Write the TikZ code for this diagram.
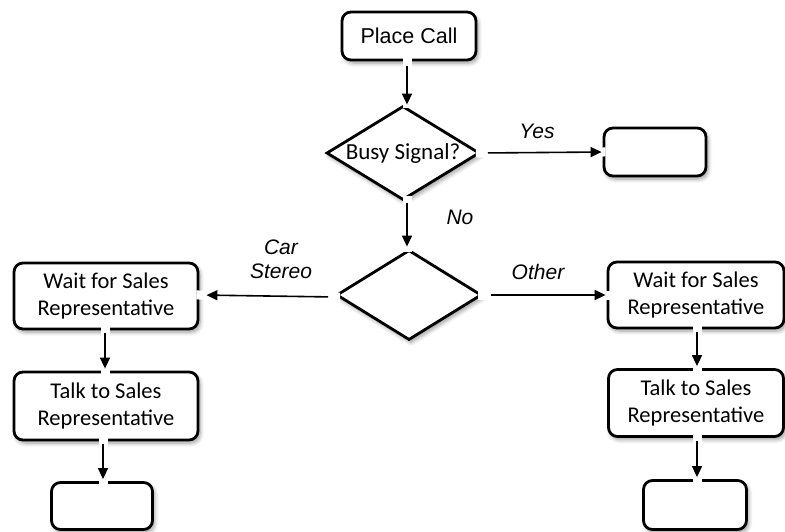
\documentclass[tikz,border=0pt]{standalone}
\usepackage{fontspec}
\setmainfont{Carlito}
\newfontfamily\arialfont{Liberation Sans}
\usetikzlibrary{shapes.geometric,arrows.meta,shadows.blur,calc}
\begin{document}
\begin{tikzpicture}[x=1pt,y=-1pt,
  shad/.style={blur shadow={shadow xshift=2pt,shadow yshift=-3pt,shadow blur steps=6,shadow opacity=40,shadow blur radius=4pt}},
  box/.style={draw=black,line width=2.8pt,rounded corners=9pt,fill=white,shad,inner sep=0pt,align=center,
    font=\fontsize{22.5}{27.5}\selectfont},
  dia/.style={draw=black,line width=2.8pt,diamond,fill=white,shad,inner sep=0pt,aspect=1.6,
    font=\fontsize{23}{27}\selectfont},
  arr/.style={line width=1.6pt,-{Triangle[length=11pt,width=10pt]},
    preaction={draw=white,line width=9pt,-,shorten <=-5pt,shorten >=-3pt}},
  lbl/.style={font=\arialfont\itshape\fontsize{21}{24}\selectfont,align=center,inner sep=0pt}]
\useasboundingbox (0,0) rectangle (785,531);

% shapes
\node[box,minimum width=134pt,minimum height=48pt,font=\arialfont\fontsize{21.5}{24}\selectfont] (place) at (409,36) {Place Call};
\node[dia,minimum width=153pt,minimum height=94pt] (busy) at (403,153) {Busy Signal?};
\node[box,minimum width=102pt,minimum height=48pt] (yesbox) at (655,152) {};
\node[dia,minimum width=145pt,minimum height=90pt] (dec) at (409,295) {};
\node[box,minimum width=184pt,minimum height=66pt] (lwait) at (106,296) {Wait for Sales\\Representative};
\node[box,minimum width=184pt,minimum height=68pt] (ltalk) at (106,406) {Talk to Sales\\Representative};
\node[box,minimum width=101pt,minimum height=47pt] (lend) at (102,506) {};
\node[box,minimum width=176pt,minimum height=66pt] (rwait) at (696,295) {Wait for Sales\\Representative};
\node[box,minimum width=175pt,minimum height=67pt] (rtalk) at (696,403) {Talk to Sales\\Representative};
\node[box,minimum width=103pt,minimum height=49pt] (rend) at (695,505) {};

% connectors
\draw[arr,shorten <=5pt] ([xshift=-2pt]place.south) -- ([xshift=-2pt]place.south |- busy.north);
\draw[arr,shorten <=2pt,shorten >=2pt] ([xshift=4pt]busy.south) -- ([xshift=4pt]busy.south |- dec.north);
\draw[arr,shorten <=7pt,shorten >=1pt] (busy.east) -- (yesbox.west);
\draw[arr,shorten <=7pt,shorten >=7pt] ([yshift=-2pt]dec.west) -- ([yshift=1pt]lwait.east);
\draw[arr,shorten <=8pt,shorten >=1pt] (dec.east) -- (rwait.west);
\draw[arr,shorten <=3pt,shorten >=2pt] ([xshift=-1pt]lwait.south) -- ([xshift=-1pt]lwait.south |- ltalk.north);
\draw[arr,shorten <=3pt,shorten >=2pt] ([xshift=1pt]lend.north |- ltalk.south) -- ([xshift=1pt]lend.north);
\draw[arr,shorten <=3pt,shorten >=2pt] ([xshift=1pt]rwait.south) -- ([xshift=1pt]rwait.south |- rtalk.north);
\draw[arr,shorten <=3pt,shorten >=2pt] ([xshift=2pt]rend.north |- rtalk.south) -- ([xshift=2pt]rend.north);

% labels
\node[lbl] (lyes) at (537,131) {Yes};
\node[lbl] (lno) at (460,217) {No};
\node[lbl] (lcar) at (281,259) {Car\\Stereo};
\node[lbl] (loth) at (538,272) {Other};
\end{tikzpicture}
\end{document}
